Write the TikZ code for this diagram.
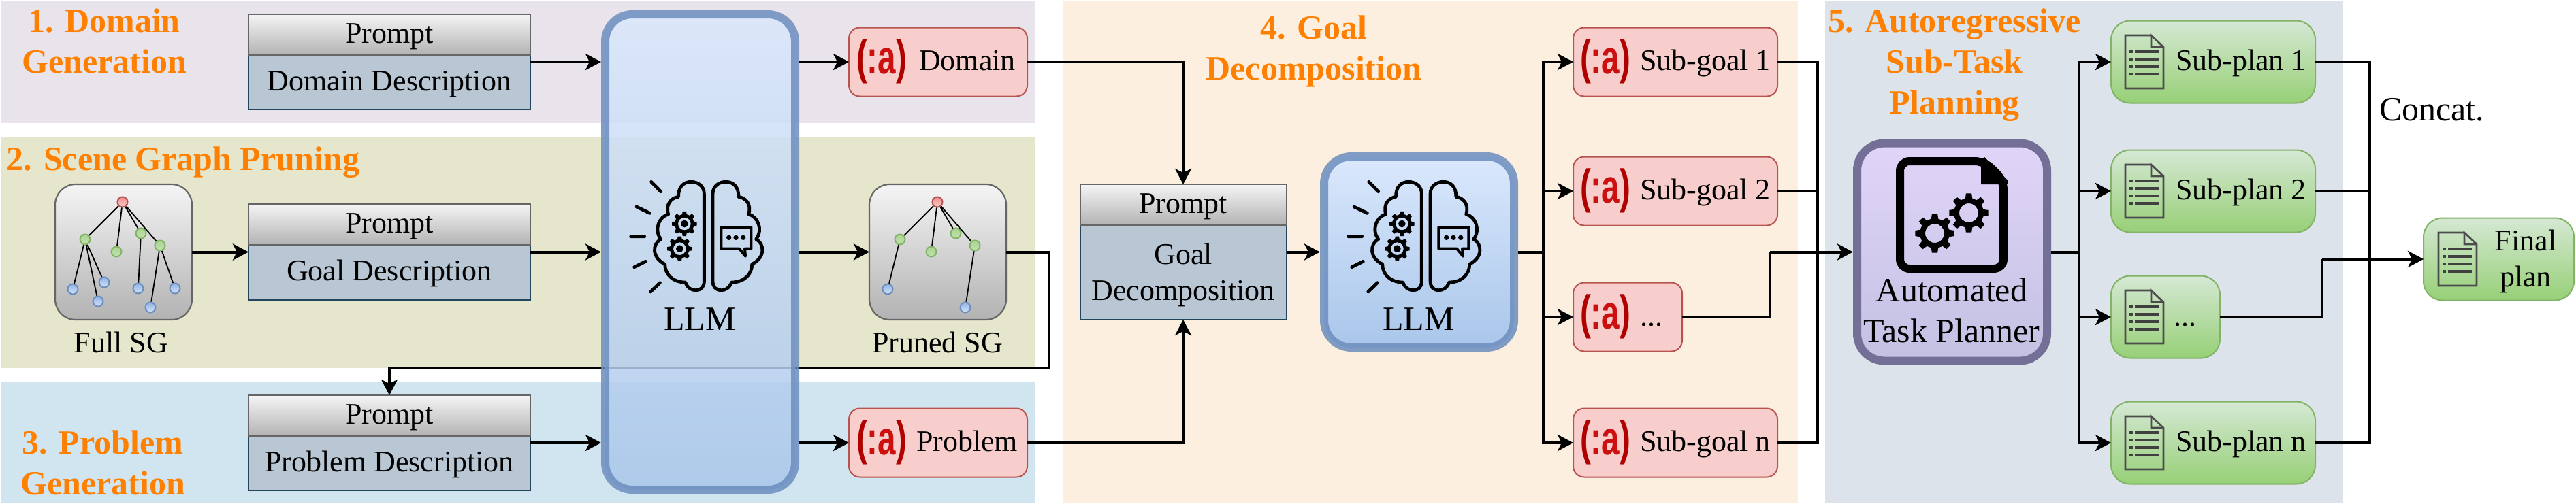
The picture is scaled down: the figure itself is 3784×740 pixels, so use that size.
\documentclass[tikz,border=0pt]{standalone}
\usepackage{fontspec}
\usepackage{graphicx}
\setmainfont{Liberation Serif}
\newfontfamily\logofont{Liberation Sans}
\usetikzlibrary{arrows.meta,calc}
\definecolor{bandA}{HTML}{E9E4EC}
\definecolor{bandB}{HTML}{E6E6CC}
\definecolor{bandC}{HTML}{D1E5F0}
\definecolor{bandD}{HTML}{FDEFDF}
\definecolor{bandE}{HTML}{DCE3EA}
\definecolor{orangelab}{HTML}{FF8000}
\definecolor{logodark}{HTML}{B00000}
\definecolor{logored}{HTML}{CC1010}
\definecolor{bodyfill}{HTML}{B8C7D3}
\definecolor{bodyline}{HTML}{23445D}
\definecolor{redline}{HTML}{B85450}
\definecolor{redfill}{HTML}{F8CECC}
\definecolor{greenline}{HTML}{82B366}
\definecolor{greentop}{HTML}{D5E8D4}
\definecolor{greenbot}{HTML}{97D077}
\definecolor{blueline}{HTML}{6C8EBF}
\definecolor{bluetop}{HTML}{DAE8FC}
\definecolor{bluebot}{HTML}{A9C6EA}
\definecolor{purpline}{HTML}{736F96}
\definecolor{purptop}{HTML}{E1D5F9}
\definecolor{purpbot}{HTML}{C3C1E3}
\definecolor{ballredtop}{HTML}{EE8C8A}
\definecolor{ballgreentop}{HTML}{A8D48C}
\definecolor{ballgreenbot}{HTML}{C4E0B4}
\definecolor{ballbluetop}{HTML}{8FB2E4}
\definecolor{ballbluebot}{HTML}{D5E4F8}
\newcommand{\fsmall}{\fontsize{22}{26.5}\selectfont}
\newcommand{\fbig}{\fontsize{25}{30}\selectfont}
\tikzset{
  x=0.5pt,y=-0.5pt,
  lab/.style={anchor=base,inner sep=0,outer sep=0,font=\fsmall,align=center},
  labw/.style={anchor=base west,inner sep=0,outer sep=0,font=\fsmall},
  biglab/.style={anchor=base,inner sep=0,outer sep=0,font=\fbig,align=center},
  steplab/.style={anchor=base,inner sep=0,outer sep=0,font=\fbig\bfseries,text=orangelab,align=center},
  frame/.style={draw=none,inner sep=0,outer sep=0},
  headbox/.style={draw=black!60,line width=1pt,top color=black!4,bottom color=black!30,inner sep=0,outer sep=0,font=\fsmall,text height=15pt,text depth=3pt},
  bodybox/.style={draw=bodyline,line width=1pt,fill=bodyfill,inner sep=0,outer sep=0,font=\fsmall,text height=15pt,text depth=3pt},
  redbox/.style={draw=redline,line width=1pt,fill=redfill,rounded corners=8pt,inner sep=0,outer sep=0},
  greenbox/.style={draw=greenline,line width=1pt,top color=greentop,bottom color=greenbot,rounded corners=14pt,inner sep=0,outer sep=0},
  sgbox/.style={draw=black!60,line width=1.1pt,top color=black!4,bottom color=black!30,rounded corners=15pt,inner sep=0,outer sep=0},
  llmbox/.style={draw=blueline,line width=6pt,top color=bluetop,bottom color=bluebot,rounded corners=20pt,inner sep=0,outer sep=3pt,fill opacity=.85,draw opacity=.85},
  plannerbox/.style={draw=purpline,line width=6pt,top color=purptop,bottom color=purpbot,rounded corners=20pt,inner sep=0,outer sep=3pt},
  logo/.style={inner sep=0,outer sep=0,font=\logofont\bfseries\fontsize{35}{35}\selectfont},
  conn/.style={draw=black,line width=2pt},
  arr/.style={conn,-{Stealth[length=11.5pt,width=12pt,inset=3pt]}},
  ballred/.style={circle,draw=redline,line width=1pt,top color=ballredtop,bottom color=redfill,minimum size=7.5pt,inner sep=0},
  ballgreen/.style={circle,draw=greenline,line width=1pt,top color=ballgreentop,bottom color=ballgreenbot,minimum size=7.5pt,inner sep=0},
  ballblue/.style={circle,draw=blueline,line width=1pt,top color=ballbluetop,bottom color=ballbluebot,minimum size=7.5pt,inner sep=0},
  sgedge/.style={draw=black,line width=.9pt},
  brainline/.style={draw=black,line width=2.4pt,line cap=round,line join=round},
}
% name, centre x, top y, width, body height, body text
\newcommand{\promptbox}[6]{%
  \node[frame,minimum width={#4*0.5pt},minimum height={(60+#5)*0.5pt}] (#1) at ({#2},{#3+(60+#5)/2}) {};
  \node[bodybox,minimum width={#4*0.5pt},minimum height={#5*0.5pt}] (#1b) at ({#2},{#3+60+#5/2}) {#6};
  \node[headbox,minimum width={#4*0.5pt},minimum height=30pt] (#1h) at ({#2},{#3+30}) {Prompt};
}
% name, left, centre y
\newcommand{\logoat}[3]{%
  \node[logo,anchor=west] (#1) at ({#2},{#3}) {\scalebox{.68}[1]{\textcolor{logodark}{(}\textcolor{logored}{:a}\textcolor{logodark}{)}}};
}
% cx cy router rinner rhole teeth
\newcommand{\gearshape}[6]{%
  \fill[black,even odd rule] ([shift={(#1,#2)}]{-0.3*360/#6}:#4)
    \foreach \k [evaluate=\k as \a using {(\k-1)*360/#6}] in {1,...,#6} {
      -- ([shift={(#1,#2)}]{\a-0.3*360/#6}:#4)
      -- ([shift={(#1,#2)}]{\a-0.18*360/#6}:#3)
      -- ([shift={(#1,#2)}]{\a+0.18*360/#6}:#3)
      -- ([shift={(#1,#2)}]{\a+0.3*360/#6}:#4)
    } -- cycle (#1,#2) circle (#5);
}
\newcommand{\brainhalf}{%
  \draw[brainline] (403,490) -- (403,105)
    .. controls (403,70) and (375,52) .. (345,52)
    .. controls (315,52) and (288,72) .. (290,118)
    .. controls (258,122) and (232,150) .. (245,195)
    .. controls (205,205) and (180,262) .. (212,305)
    .. controls (175,325) and (170,385) .. (230,415)
    .. controls (230,460) and (265,495) .. (320,495)
    .. controls (330,522) and (350,530) .. (365,530)
    .. controls (390,530) and (403,515) .. (403,490);
}
\newcommand{\brainicon}[1]{%
  \begin{scope}[shift={(#1,250)},x=0.1667pt,y=-0.1667pt]
    \brainhalf
    \begin{scope}[shift={(844,0)},xscale=-1]\brainhalf\end{scope}
    \draw[brainline] (170,52) -- (212,95) (105,162) -- (163,190) (80,293) -- (140,293) (95,428) -- (145,403) (167,537) -- (208,497);
    \gearshape{316}{237}{55}{43}{28}{8}
    \fill (316,237) circle (16);
    \gearshape{295}{347}{55}{43}{28}{8}
    \fill (295,347) circle (16);
    \draw[brainline,line width=2pt] (478,252) -- (610,252) -- (610,347) -- (582,347) -- (585,380) -- (558,347) -- (478,347) -- cycle;
    \fill (512,298) circle (11) (543,298) circle (11) (575,298) circle (11);
  \end{scope}
}
\newcommand{\docicon}[2]{%
  \begin{scope}[shift={(#1,#2)}]
    \draw[draw=black!70,line width=1.3pt] (38,0) -- (0,0) -- (0,78) -- (56,78) -- (56,17) -- (38,0) -- (38,17) -- (56,17);
    \foreach \yy in {24,35,46,57}{
      \fill[black!75] (6,\yy-2) rectangle (11,\yy+2);
      \fill[black!75] (14,\yy-2) rectangle (49,\yy+2);
    }
  \end{scope}
}
\begin{document}
\begin{tikzpicture}
\useasboundingbox (0,0) rectangle (3784,740);
\fill[white] (0,0) rectangle (3784,740);
% bands
\fill[bandA] (1,1) rectangle (1521,181);
\fill[bandB] (1,201) rectangle (1521,541);
\fill[bandC] (1,561) rectangle (1521,740);
\fill[bandD] (1561,1) rectangle (2641,740);
\fill[bandE] (2681,1) rectangle (3442,740);
% step titles
\node[steplab] (t1) at (153,107) {1. Domain\\Generation};
\node[steplab] (t2) at (269,250) {2. Scene Graph Pruning};
\node[steplab] (t3) at (151,727) {3. Problem\\Generation};
\node[steplab] (t4) at (1930,117) {4. Goal\\Decomposition};
\node[steplab] (t5) at (2871,167) {5. Autoregressive\\Sub-Task\\Planning};
% prompts
\promptbox{pa}{572}{21}{414}{80}{Domain Description}
\promptbox{pb}{572}{300}{414}{81}{Goal Description}
\promptbox{pc}{572}{581}{414}{80}{Problem Description}
\promptbox{pd}{1738}{271}{303}{139}{}
\node[lab] (pdt) at (1738,441) {Goal\\Decomposition};
% scene graphs
\node[sgbox,minimum width=100.5pt,minimum height=99.5pt] (full) at (181.5,370.5) {};
\node[lab] (fulll) at (178,518) {Full SG};
\node[sgbox,minimum width=100.5pt,minimum height=99.5pt] (pruned) at (1377.5,370.5) {};
\node[lab] (prunedl) at (1377,518) {Pruned SG};
\node[ballred] (fr) at (180,297) {};
\node[ballgreen] (fg1) at (125,352) {};
\node[ballgreen] (fg2) at (171,370) {};
\node[ballgreen] (fg3) at (207,343) {};
\node[ballgreen] (fg4) at (235,361) {};
\node[ballblue] (fb1) at (107,425) {};
\node[ballblue] (fb2) at (153,415) {};
\node[ballblue] (fb3) at (144,443) {};
\node[ballblue] (fb4) at (203,424) {};
\node[ballblue] (fb5) at (221,452) {};
\node[ballblue] (fb6) at (257,424) {};
\draw[sgedge] (fr)--(fg1) (fr)--(fg2) (fr)--(fg3) (fr)--(fg4) (fg1)--(fb1) (fg1)--(fb2) (fg1)--(fb3) (fg3)--(fb4) (fg4)--(fb5) (fg4)--(fb6);
\node[ballred] (pr) at (1377,297) {};
\node[ballgreen] (pg1) at (1322,352) {};
\node[ballgreen] (pg2) at (1368,370) {};
\node[ballgreen] (pg3) at (1404,343) {};
\node[ballgreen] (pg4) at (1432,361) {};
\node[ballblue] (pb1) at (1304,425) {};
\node[ballblue] (pb5) at (1418,452) {};
\draw[sgedge] (pr)--(pg1) (pr)--(pg2) (pr)--(pg3) (pr)--(pg4) (pg1)--(pb1) (pg4)--(pb5);
% outputs of the LLM
\node[redbox,minimum width=131pt,minimum height=50.5pt] (dom) at (1378,91) {};
\logoat{dl}{1258}{90}
\node[labw] (domt) at (1350,103) {Domain};
\node[redbox,minimum width=131pt,minimum height=50.5pt] (prob) at (1378,651) {};
\logoat{pl}{1258}{650}
\node[labw] (probt) at (1346,663) {Problem};
% line that runs behind the LLM
\coordinate (ca) at (1541,541);
\draw[arr] (pruned.east) -| (ca) -| (pc.north);
% LLM boxes
\node[llmbox,minimum width=139.5pt,minimum height=349.5pt] (llma) at (1028.5,370.5) {};
\brainicon{900}
\node[lab,font=\fbig] (llmat) at (1028,485) {LLM};
\node[llmbox,fill opacity=1,draw opacity=.85,minimum width=139.5pt,minimum height=140.5pt] (llmb) at (2084.5,370.5) {};
\brainicon{1954}
\node[lab,font=\fbig] (llmbt) at (2084,485) {LLM};
% sub-goals
\node[redbox,minimum width=150pt,minimum height=50.5pt] (sa) at (2461,91) {};
\logoat{sal}{2321}{90}
\node[labw] (sat) at (2409,103) {Sub-goal 1};
\node[redbox,minimum width=150pt,minimum height=50.5pt] (sb) at (2461,281) {};
\logoat{sbl}{2321}{280}
\node[labw] (sbt) at (2409,293) {Sub-goal 2};
\node[redbox,minimum width=80pt,minimum height=50.5pt] (sc) at (2391,466) {};
\logoat{scl}{2321}{465}
\node[labw] (sct) at (2409,479) {...};
\node[redbox,minimum width=150pt,minimum height=50.5pt] (sn) at (2461,651) {};
\logoat{snl}{2321}{650}
\node[labw] (snt) at (2409,663) {Sub-goal n};
% planner
\node[plannerbox,minimum width=139.5pt,minimum height=160pt] (planner) at (2867.5,370.5) {};
\fill[black] (2910,237) -- (2910,271) -- (2949,271) -- (2949,265) -- (2915,231) -- cycle;
\draw[draw=black,line width=6pt,rounded corners=7pt] (2915,237) -- (2791,237) -- (2791,395) -- (2943,395) -- (2943,265) -- cycle;
\gearshape{2842}{343}{29}{22}{14}{8}
\gearshape{2892}{313}{29}{22}{14}{8}
\node[biglab] (plt) at (2867,503) {Automated\\Task Planner};
% sub-plans
\node[greenbox,minimum width=150pt,minimum height=60.5pt] (pla) at (3251,91) {};
\docicon{3122}{52}
\node[labw] (plat) at (3196,103) {Sub-plan 1};
\node[greenbox,minimum width=150pt,minimum height=60.5pt] (plb) at (3251,281) {};
\docicon{3122}{242}
\node[labw] (plbt) at (3196,293) {Sub-plan 2};
\node[greenbox,minimum width=80pt,minimum height=60.5pt] (plc) at (3181,466) {};
\docicon{3122}{427}
\node[labw] (plct) at (3193,479) {...};
\node[greenbox,minimum width=150pt,minimum height=60.5pt] (pln) at (3251,651) {};
\docicon{3122}{612}
\node[labw] (plnt) at (3196,663) {Sub-plan n};
\node[greenbox,minimum width=110.5pt,minimum height=60.5pt] (fin) at (3670.5,381) {};
\docicon{3582}{342}
\node[lab] (fint) at (3710,421) {Final\\plan};
\node[labw,font=\fbig] (conc) at (3495,177) {Concat.};
% connectors
\draw[arr] (pa.east) -- (pa.east -| llma.west);
\draw[arr] (pb.east) -- (pb.east -| llma.west);
\draw[arr] (pc.east) -- (pc.east -| llma.west);
\draw[arr] (full.east) -- (full.east -| pb.west);
\draw[arr] (dom.west -| llma.east) -- (dom.west);
\draw[arr] (pruned.west -| llma.east) -- (pruned.west);
\draw[arr] (prob.west -| llma.east) -- (prob.west);
\draw[arr] (dom.east) -| (pd.north);
\draw[arr] (prob.east) -| (pd.south);
\draw[arr] (pd.east) -- (pd.east -| llmb.west);
\coordinate (ta) at ($(llmb.east)+(37,0)$);
\draw[conn] (llmb.east) -- (ta);
\draw[arr] (ta) |- (sa.west);
\draw[arr] (ta) |- (sb.west);
\draw[arr] (ta) |- (sc.west);
\draw[arr] (ta) |- (sn.west);
\coordinate (tb) at (2670,370.5);
\coordinate (tc) at (2600,370.5);
\draw[conn] (sa.east) -| (tb);
\draw[conn] (sb.east) -| (tb);
\draw[conn] (sn.east) -| (tb);
\draw[conn] (sc.east) -| (tc);
\draw[arr] (tc) -- (tc -| planner.west);
\coordinate (td) at ($(planner.east)+(41,0)$);
\draw[conn] (planner.east) -- (td);
\draw[arr] (td) |- (pla.west);
\draw[arr] (td) |- (plb.west);
\draw[arr] (td) |- (plc.west);
\draw[arr] (td) |- (pln.west);
\coordinate (te) at (3481,381);
\coordinate (tf) at (3411,381);
\draw[conn] (pla.east) -| (te);
\draw[conn] (plb.east) -| (te);
\draw[conn] (pln.east) -| (te);
\draw[conn] (plc.east) -| (tf);
\draw[arr] (tf) -- (fin.west);
\end{tikzpicture}
\end{document}
